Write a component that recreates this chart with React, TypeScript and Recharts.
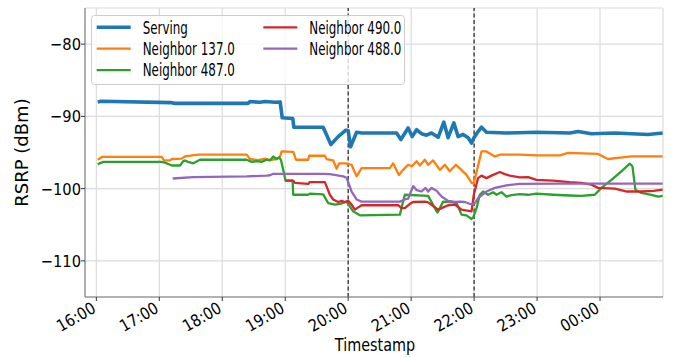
import React from 'react';
import { LineChart, Line, XAxis, YAxis, CartesianGrid, ReferenceLine, Label } from 'recharts';

// time in hours after 16:00, RSRP in dBm
const serving: [number, number][] = [
  [0.022, -88.0], [0.075, -87.9], [1.197, -88.1], [1.25, -88.2], [2.408, -88.2], [2.44, -87.95],
  [2.6, -88.05], [2.68, -87.95], [2.84, -88.05], [2.92, -88.0], [2.952, -90.2], [3.12, -90.3],
  [3.137, -91.5], [3.603, -91.5], [3.725, -93.9], [3.841, -92.8], [3.963, -91.9], [4.0, -92.0],
  [4.038, -94.2], [4.133, -92.2], [4.213, -92.3], [4.768, -92.3], [4.837, -93.2], [4.952, -91.6],
  [5.016, -92.8], [5.086, -91.85], [5.165, -92.4], [5.244, -92.6], [5.324, -92.3], [5.429, -92.9],
  [5.519, -90.8], [5.587, -92.95], [5.678, -90.9], [5.746, -92.8], [5.825, -92.5], [5.905, -92.95],
  [5.959, -93.7], [5.995, -93.0], [6.063, -92.1], [6.117, -91.5], [6.197, -92.2], [6.514, -92.3],
  [6.99, -92.2], [7.519, -92.3], [7.651, -92.1], [7.863, -92.4], [8.233, -92.3], [8.762, -92.5],
  [8.995, -92.3],
];

const neighbor137: [number, number][] = [
  [0.022, -96.0], [0.095, -95.6], [1.038, -95.6], [1.075, -96.1], [1.17, -96.1], [1.197, -95.9],
  [1.356, -95.85], [1.408, -95.55], [1.619, -95.3], [2.387, -95.3], [2.44, -95.9], [2.571, -96.05],
  [2.678, -95.85], [2.757, -96.05], [2.863, -95.9], [2.916, -95.6], [2.943, -94.85], [3.127, -94.9],
  [3.17, -96.0], [3.365, -96.0], [3.381, -95.45], [3.63, -95.45], [3.657, -95.9], [3.762, -96.1],
  [3.816, -97.25], [3.857, -96.5], [3.963, -96.5], [4.054, -96.7], [4.133, -98.3], [4.213, -97.15],
  [4.662, -97.15], [4.714, -96.5], [4.805, -98.1], [4.873, -97.4], [4.952, -96.7], [5.011, -96.9],
  [5.086, -96.2], [5.138, -96.8], [5.217, -96.0], [5.27, -96.7], [5.349, -96.1], [5.456, -97.4],
  [5.535, -96.7], [5.614, -97.6], [5.71, -96.7], [5.773, -97.2], [5.879, -98.1], [5.959, -99.2],
  [5.995, -99.3], [6.117, -94.85], [6.197, -94.85], [6.329, -95.55], [6.408, -95.3], [6.725, -95.3],
  [6.99, -95.4], [7.36, -95.4], [7.492, -95.05], [7.968, -95.2], [8.127, -95.9], [8.286, -95.75],
  [8.498, -95.55], [8.995, -95.55],
];

const neighbor487: [number, number][] = [
  [0.022, -96.6], [0.111, -96.3], [1.038, -96.3], [1.09, -96.4], [1.2, -96.8], [1.33, -96.8],
  [1.381, -96.2], [1.408, -96.1], [1.456, -96.3], [1.54, -96.5], [1.646, -96.0], [2.387, -96.0],
  [2.467, -96.3], [2.546, -96.2], [2.625, -96.3], [2.705, -96.0], [2.757, -96.1], [2.81, -95.55],
  [2.863, -95.9], [2.9, -95.7], [2.932, -96.0], [3.006, -98.9], [3.117, -98.9], [3.127, -100.85],
  [3.36, -100.85], [3.39, -100.7], [3.603, -100.8], [3.683, -102.0], [3.79, -102.2], [3.87, -102.1],
  [3.975, -101.8], [4.079, -103.15], [4.186, -103.7], [4.821, -103.6], [4.9, -100.85], [5.27, -101.0],
  [5.405, -103.15], [5.42, -103.3], [5.508, -101.8], [5.641, -101.85], [5.72, -102.0], [5.8, -103.6],
  [5.879, -103.7], [5.959, -104.2], [5.984, -104.0], [6.038, -102.7], [6.09, -100.85], [6.143, -100.4],
  [6.222, -100.85], [6.302, -100.5], [6.356, -100.85], [6.435, -100.5], [6.514, -101.1], [6.594, -100.9],
  [6.725, -100.75], [6.857, -100.85], [6.99, -100.7], [7.254, -100.85], [7.519, -100.95], [7.705, -101.0],
  [7.916, -100.85], [8.022, -99.9], [8.181, -98.8], [8.34, -97.6], [8.471, -96.55], [8.514, -96.9],
  [8.562, -100.15], [8.657, -100.6], [8.816, -100.85], [8.921, -101.1], [8.995, -101.0],
];

const neighbor490: [number, number][] = [
  [3.006, -98.9], [3.127, -98.9], [3.154, -99.2], [3.365, -99.35], [3.39, -99.1], [3.63, -99.1],
  [3.709, -100.85], [3.762, -101.5], [3.841, -101.85], [3.895, -101.7], [3.948, -101.85], [4.0, -101.7],
  [4.054, -102.2], [4.106, -102.9], [4.14, -102.7], [4.213, -102.3], [4.794, -102.3], [4.848, -102.7],
  [4.9, -102.7], [4.98, -102.1], [5.032, -101.85], [5.217, -101.8], [5.27, -101.9], [5.429, -102.9],
  [5.483, -102.7], [5.587, -102.3], [5.694, -102.2], [5.8, -102.9], [5.959, -103.15], [5.995, -100.85],
  [6.063, -98.55], [6.117, -98.2], [6.197, -98.55], [6.276, -98.2], [6.408, -97.7], [6.487, -98.0],
  [6.567, -98.2], [6.725, -98.45], [6.857, -98.4], [6.99, -98.8], [7.254, -98.9], [7.519, -99.1],
  [7.705, -99.2], [7.863, -99.45], [7.968, -99.9], [8.233, -100.0], [8.429, -100.4], [8.64, -100.4],
  [8.852, -100.3], [8.995, -100.15],
];

const neighbor488: [number, number][] = [
  [1.213, -98.6], [1.54, -98.4], [2.387, -98.3], [2.705, -98.2], [2.757, -98.15], [2.81, -97.95],
  [3.603, -97.95], [3.709, -98.0], [3.921, -98.3], [3.975, -98.5], [4.054, -100.4], [4.133, -101.5],
  [4.213, -101.8], [4.821, -101.8], [4.9, -101.5], [4.952, -101.4], [5.032, -99.65], [5.086, -100.2],
  [5.165, -100.4], [5.229, -99.9], [5.27, -100.4], [5.324, -99.9], [5.403, -100.3], [5.483, -101.1],
  [5.587, -101.7], [5.694, -101.85], [5.773, -101.8], [5.852, -101.85], [5.959, -102.2], [6.011, -102.0],
  [6.063, -101.3], [6.197, -100.4], [6.329, -99.9], [6.514, -99.55], [6.725, -99.35], [7.36, -99.3],
  [8.995, -99.3],
];

const xTicks = [0, 1, 2, 3, 4, 5, 6, 7, 8];
const xTickLabels = ['16:00', '17:00', '18:00', '19:00', '20:00', '21:00', '22:00', '23:00', '00:00'];
const yTicks = [-110, -100, -90, -80];
const eventMarks = [4, 6];

const seriesList = [
  { name: 'Serving', data: serving, color: '#1f77b4', width: 3.6 },
  { name: 'Neighbor 137.0', data: neighbor137, color: '#ff7f0e', width: 2.3 },
  { name: 'Neighbor 487.0', data: neighbor487, color: '#2ca02c', width: 2.3 },
  { name: 'Neighbor 490.0', data: neighbor490, color: '#d62728', width: 2.3 },
  { name: 'Neighbor 488.0', data: neighbor488, color: '#9467bd', width: 2.3 },
];

const FONT = '"DejaVu Sans", sans-serif';

const XTick = (props: any) => {
  const { x, y, payload } = props;
  const idx = xTicks.indexOf(payload.value);
  return (
    <g transform={`translate(${x - 5.5},${y}) rotate(-30) scale(0.875,1)`}>
      <text x={0} y={0} dy="0.73em" textAnchor="end" fontSize={16.5} fill="#000" fontFamily={FONT}>
        {idx >= 0 ? xTickLabels[idx] : ''}
      </text>
    </g>
  );
};

const YTick = (props: any) => {
  const { x, y, payload } = props;
  return (
    <g transform={`translate(${x},${y}) scale(0.89,1)`}>
      <text x={0} y={0} dy="0.36em" textAnchor="end" fontSize={16.5} fill="#000" fontFamily={FONT}>
        {`\u2212${Math.abs(payload.value)}`}
      </text>
    </g>
  );
};

const Legend = () => (
  <svg width={320} height={75} style={{ position: 'absolute', left: 91, top: 15 }}>
    <rect x={0.5} y={0.5} width={313} height={69} rx={3} fill="rgba(255,255,255,0.8)" stroke="#cccccc" />
    {seriesList.map((s, i) => {
      const col = i < 3 ? 0 : 1;
      const row = i < 3 ? i : i - 3;
      const cy = 12.3 + row * 21.4;
      const lx = 5.7 + col * 166.6;
      return (
        <g key={s.name}>
          <line x1={lx} x2={lx + 34} y1={cy} y2={cy} stroke={s.color} strokeWidth={s.width} />
          <g transform={`translate(${lx + 46},${cy + 6.2}) scale(0.7,1)`}>
            <text x={0} y={0} fontSize={17} fontFamily={FONT} fill="#000">{s.name}</text>
          </g>
        </g>
      );
    })}
  </svg>
);

export default function App() {
  return (
    <div style={{ position: 'absolute', left: 0, top: 0, width: 676, height: 358, background: '#fff' }}>
      <LineChart width={676} height={358} margin={{ top: 8, right: 13, bottom: 0, left: 0 }}>
        <CartesianGrid stroke="#dcdcdc" strokeWidth={1.2} />
        <XAxis
          dataKey="t"
          type="number"
          domain={[-0.18, 9.0]}
          ticks={xTicks}
          allowDataOverflow
          height={61}
          tick={<XTick />}
          tickSize={4}
          tickMargin={0}
          stroke="#777"
          tickLine={{ stroke: '#333' }}
          interval={0}
        >
          <Label
            content={(p: any) => {
              const vb = p.viewBox;
              return (
                <g transform={`translate(${vb.x + vb.width / 2 + 1},${vb.y + 54}) scale(0.8,1)`}>
                  <text x={0} y={0} textAnchor="middle" fontSize={18} fontFamily={FONT} fill="#000">Timestamp</text>
                </g>
              );
            }}
          />
        </XAxis>
        <XAxis xAxisId="top" orientation="top" type="number" domain={[-0.18, 9.0]} height={0} tick={false} tickLine={false} stroke="#777" />
        <YAxis
          type="number"
          domain={[-115, -75]}
          ticks={yTicks}
          width={85}
          tick={<YTick />}
          tickSize={4}
          tickMargin={0}
          stroke="#777"
          tickLine={{ stroke: '#333' }}
          interval={0}
        >
          <Label
            content={(p: any) => {
              const vb = p.viewBox;
              const cx = vb.x + 28;
              const cy = vb.y + vb.height / 2;
              return (
                <text x={cx} y={cy} transform={`rotate(-90 ${cx} ${cy})`} textAnchor="middle" fontSize={18} fontFamily={FONT} fill="#000">
                  RSRP (dBm)
                </text>
              );
            }}
          />
        </YAxis>
        <YAxis yAxisId="right" orientation="right" type="number" domain={[-115, -75]} width={0} tick={false} tickLine={false} stroke="#999" />
        {eventMarks.map((m) => (
          <ReferenceLine key={m} x={m} stroke="#333" strokeWidth={1.3} strokeDasharray="4 2.5" />
        ))}
        {seriesList.map((s) => (
          <Line
            key={s.name}
            data={s.data.map(([t, v]) => ({ t, v }))}
            dataKey="v"
            name={s.name}
            type="linear"
            stroke={s.color}
            strokeWidth={s.width}
            dot={false}
            activeDot={false}
            isAnimationActive={false}
            strokeLinejoin="round"
          />
        ))}
      </LineChart>
      <Legend />
    </div>
  );
}
